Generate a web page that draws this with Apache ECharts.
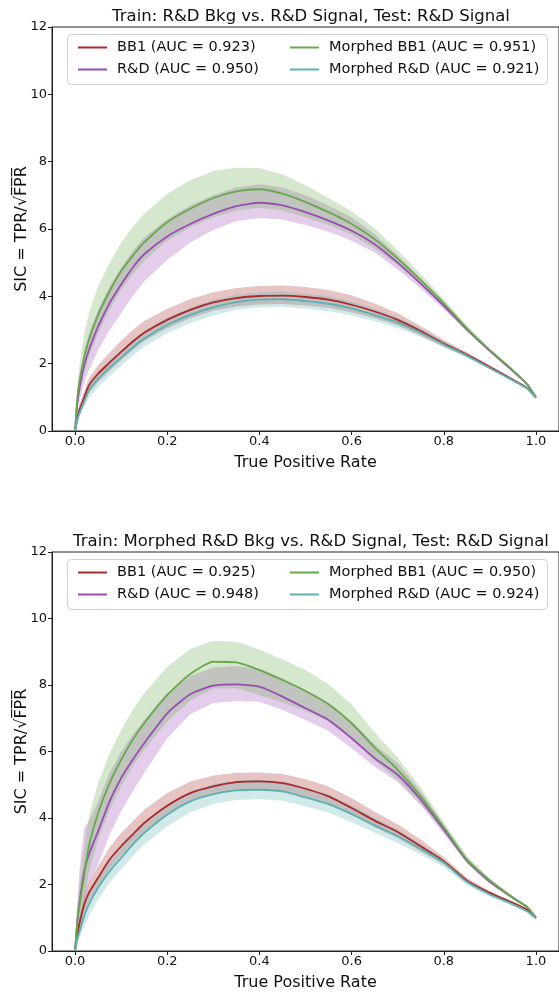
<!DOCTYPE html>
<html><head><meta charset="utf-8">
<script src="https://cdn.jsdelivr.net/npm/echarts@6/dist/echarts.min.js"></script>
<style>html,body{margin:0;padding:0;background:#fff}#c{width:559px;height:992px}</style>
</head><body><div id="c"></div>
<script>
// True positive rate grid (shared by all curves)
const tpr = [0, 0.005, 0.01, 0.02, 0.03, 0.05, 0.075, 0.1, 0.125, 0.15, 0.2, 0.25, 0.3, 0.35, 0.4, 0.45, 0.5, 0.55, 0.6, 0.65, 0.7, 0.75, 0.8, 0.85, 0.9, 0.95, 0.98, 1.0];

// Panel A: Train R&D Bkg vs R&D Signal
const aBB1    = [0, 0.4, 0.65, 1.0, 1.35, 1.7, 2.03, 2.35, 2.65, 2.92, 3.3, 3.6, 3.82, 3.95, 4.01, 4.02, 3.98, 3.9, 3.75, 3.55, 3.3, 2.97, 2.6, 2.27, 1.9, 1.52, 1.28, 1.0];
const aBB1Hi  = [0, 0.5, 0.8, 1.2, 1.57, 1.95, 2.33, 2.68, 3.0, 3.27, 3.63, 3.92, 4.12, 4.25, 4.31, 4.32, 4.28, 4.19, 4.03, 3.79, 3.5, 3.12, 2.7, 2.34, 1.95, 1.55, 1.3, 1.02];
const aBB1Lo  = [0, 0.3, 0.5, 0.8, 1.13, 1.45, 1.78, 2.1, 2.4, 2.67, 3.05, 3.35, 3.57, 3.7, 3.76, 3.77, 3.73, 3.66, 3.53, 3.35, 3.13, 2.83, 2.5, 2.2, 1.85, 1.49, 1.26, 0.98];
const aRD     = [0, 0.85, 1.3, 1.95, 2.4, 3.1, 3.8, 4.35, 4.85, 5.25, 5.78, 6.15, 6.45, 6.68, 6.78, 6.7, 6.5, 6.25, 5.95, 5.55, 5.0, 4.38, 3.72, 3.02, 2.38, 1.78, 1.4, 1.0];
const aRDHi   = [0, 1.15, 1.7, 2.4, 2.9, 3.6, 4.3, 4.85, 5.35, 5.75, 6.3, 6.7, 7.0, 7.23, 7.33, 7.23, 7.0, 6.7, 6.35, 5.85, 5.22, 4.54, 3.82, 3.09, 2.43, 1.82, 1.43, 1.02];
const aRDLo   = [0, 0.55, 0.9, 1.45, 1.8, 2.4, 3.0, 3.5, 4.0, 4.45, 5.08, 5.6, 5.97, 6.23, 6.33, 6.28, 6.12, 5.92, 5.65, 5.3, 4.8, 4.23, 3.62, 2.95, 2.33, 1.74, 1.37, 0.98];
const aMBB1   = [0, 1.0, 1.5, 2.2, 2.7, 3.45, 4.15, 4.75, 5.2, 5.6, 6.2, 6.6, 6.92, 7.12, 7.18, 7.05, 6.8, 6.5, 6.15, 5.7, 5.12, 4.48, 3.8, 3.05, 2.4, 1.8, 1.4, 1.0];
const aMBB1Hi = [0, 1.35, 2.0, 2.9, 3.5, 4.3, 5.0, 5.6, 6.05, 6.45, 7.05, 7.45, 7.72, 7.82, 7.81, 7.62, 7.3, 6.92, 6.53, 6.02, 5.37, 4.66, 3.92, 3.13, 2.46, 1.84, 1.43, 1.02];
const aMBB1Lo = [0, 0.7, 1.1, 1.75, 2.2, 2.9, 3.6, 4.2, 4.65, 5.05, 5.65, 6.05, 6.35, 6.54, 6.63, 6.55, 6.35, 6.12, 5.83, 5.43, 4.92, 4.33, 3.7, 2.98, 2.35, 1.76, 1.37, 0.98];
const aMRD    = [0, 0.33, 0.55, 0.88, 1.2, 1.55, 1.88, 2.18, 2.48, 2.75, 3.15, 3.45, 3.67, 3.83, 3.9, 3.92, 3.86, 3.78, 3.64, 3.44, 3.22, 2.92, 2.57, 2.24, 1.87, 1.5, 1.27, 0.98];
const aMRDHi  = [0, 0.43, 0.68, 1.05, 1.4, 1.77, 2.1, 2.4, 2.7, 2.97, 3.37, 3.67, 3.89, 4.05, 4.12, 4.14, 4.08, 4.0, 3.85, 3.63, 3.38, 3.05, 2.66, 2.3, 1.91, 1.53, 1.29, 1.0];
const aMRDLo  = [0, 0.23, 0.42, 0.7, 0.98, 1.3, 1.63, 1.93, 2.23, 2.5, 2.9, 3.2, 3.43, 3.6, 3.67, 3.69, 3.63, 3.56, 3.43, 3.26, 3.06, 2.8, 2.48, 2.18, 1.83, 1.47, 1.25, 0.96];

// Panel B: Train Morphed R&D Bkg vs R&D Signal
const bBB1    = [0, 0.5, 0.85, 1.4, 1.75, 2.2, 2.75, 3.15, 3.5, 3.85, 4.37, 4.75, 4.95, 5.08, 5.1, 5.05, 4.88, 4.65, 4.3, 3.92, 3.58, 3.15, 2.7, 2.12, 1.75, 1.45, 1.25, 1.0];
const bBB1Hi  = [0, 0.65, 1.05, 1.65, 2.05, 2.55, 3.12, 3.55, 3.9, 4.25, 4.75, 5.1, 5.28, 5.36, 5.37, 5.32, 5.17, 4.95, 4.6, 4.19, 3.81, 3.35, 2.83, 2.2, 1.8, 1.48, 1.27, 1.02];
const bBB1Lo  = [0, 0.35, 0.65, 1.15, 1.5, 1.92, 2.47, 2.87, 3.23, 3.58, 4.12, 4.5, 4.7, 4.83, 4.85, 4.8, 4.64, 4.42, 4.08, 3.72, 3.4, 3.0, 2.6, 2.05, 1.7, 1.42, 1.23, 0.98];
const bRD     = [0, 0.9, 1.5, 2.4, 2.9, 3.6, 4.5, 5.2, 5.75, 6.25, 7.15, 7.72, 7.98, 8.02, 7.95, 7.65, 7.3, 6.95, 6.4, 5.8, 5.3, 4.55, 3.65, 2.72, 2.08, 1.6, 1.33, 1.0];
const bRDHi   = [0, 1.5, 2.5, 3.7, 3.9, 4.5, 5.35, 6.0, 6.5, 6.95, 7.75, 8.27, 8.53, 8.57, 8.5, 8.2, 7.85, 7.47, 6.9, 6.22, 5.65, 4.8, 3.8, 2.82, 2.15, 1.65, 1.36, 1.02];
const bRDLo   = [0, 0.4, 0.8, 1.5, 2.0, 2.6, 3.5, 4.2, 4.8, 5.35, 6.4, 7.12, 7.46, 7.52, 7.5, 7.25, 6.95, 6.62, 6.1, 5.54, 5.08, 4.38, 3.53, 2.64, 2.02, 1.56, 1.3, 0.98];
const bMBB1   = [0, 0.9, 1.4, 2.3, 3.15, 4.15, 5.05, 5.75, 6.35, 6.85, 7.7, 8.33, 8.7, 8.68, 8.45, 8.15, 7.82, 7.42, 6.85, 6.12, 5.45, 4.65, 3.72, 2.75, 2.12, 1.6, 1.33, 1.0];
const bMBB1Hi = [0, 1.3, 2.0, 3.1, 4.05, 5.05, 5.95, 6.65, 7.25, 7.75, 8.55, 9.08, 9.33, 9.3, 9.07, 8.77, 8.45, 8.02, 7.42, 6.57, 5.82, 4.92, 3.88, 2.85, 2.19, 1.65, 1.36, 1.02];
const bMBB1Lo = [0, 0.5, 0.8, 1.5, 2.35, 3.35, 4.25, 4.95, 5.55, 6.05, 6.9, 7.53, 7.9, 7.9, 7.7, 7.47, 7.22, 6.9, 6.4, 5.72, 5.15, 4.43, 3.58, 2.65, 2.05, 1.55, 1.3, 0.98];
const bMRD    = [0, 0.35, 0.6, 1.05, 1.4, 1.9, 2.4, 2.8, 3.2, 3.55, 4.1, 4.5, 4.72, 4.83, 4.85, 4.8, 4.62, 4.42, 4.12, 3.78, 3.45, 3.07, 2.66, 2.08, 1.7, 1.4, 1.2, 0.98];
const bMRDHi  = [0, 0.5, 0.82, 1.32, 1.7, 2.22, 2.72, 3.12, 3.52, 3.87, 4.4, 4.8, 5.02, 5.13, 5.15, 5.1, 4.92, 4.7, 4.38, 4.01, 3.65, 3.22, 2.76, 2.14, 1.74, 1.43, 1.22, 1.0];
const bMRDLo  = [0, 0.2, 0.4, 0.75, 1.05, 1.55, 2.05, 2.45, 2.85, 3.2, 3.75, 4.17, 4.42, 4.54, 4.57, 4.52, 4.35, 4.16, 3.87, 3.56, 3.25, 2.9, 2.53, 1.98, 1.63, 1.35, 1.17, 0.96];

const titles = ['Train: R&D Bkg vs. R&D Signal, Test: R&D Signal',
                'Train: Morphed R&D Bkg vs. R&D Signal, Test: R&D Signal'];
const namesA = ['BB1 (AUC = 0.923)', 'R&D (AUC = 0.950)', 'Morphed BB1 (AUC = 0.951)', 'Morphed R&D (AUC = 0.921)'];
const namesB = ['BB1 (AUC = 0.925)', 'R&D (AUC = 0.948)', 'Morphed BB1 (AUC = 0.950)', 'Morphed R&D (AUC = 0.924)'];
const xTicks = [0, 0.2, 0.4, 0.6, 0.8, 1.0];

const colors = ['#a82a2a', '#9a4cb4', '#68a84c', '#5cb0b3'];
const bandColors = ['rgba(168,42,42,0.28)', 'rgba(154,76,180,0.28)', 'rgba(104,168,76,0.28)', 'rgba(92,176,179,0.28)'];

const panels = [
  {names: namesA, mean: [aBB1, aRD, aMBB1, aMRD], hi: [aBB1Hi, aRDHi, aMBB1Hi, aMRDHi], lo: [aBB1Lo, aRDLo, aMBB1Lo, aMRDLo]},
  {names: namesB, mean: [bBB1, bRD, bMBB1, bMRD], hi: [bBB1Hi, bRDHi, bMBB1Hi, bMRDHi], lo: [bBB1Lo, bRDLo, bMBB1Lo, bMRDLo]}
];

const gridTops = [27, 552];
const gridH = 404;
const FONT = 'DejaVu Sans';

const grid = [], xAxis = [], yAxis = [], series = [], legend = [], graphic = [], title = [];
panels.forEach((p, k) => {
  grid.push({left: 52, top: gridTops[k], width: 509, height: gridH, show: true, borderColor: '#222', borderWidth: 1, containLabel: false});
  xAxis.push({
    type: 'value', gridIndex: k, min: -0.05, max: 1.05,
    name: 'True Positive Rate', nameLocation: 'middle', nameGap: 24,
    nameTextStyle: {fontFamily: FONT, fontSize: 16, color: '#111'},
    axisLine: {show: true, onZero: false, lineStyle: {color: '#222', width: 1}},
    axisTick: {show: true, length: 4, customValues: xTicks, lineStyle: {color: '#222'}},
    axisLabel: {customValues: xTicks, formatter: v => v.toFixed(1), fontFamily: FONT, fontSize: 13, color: '#111', margin: 4},
    splitLine: {show: false}
  });
  yAxis.push({
    type: 'value', gridIndex: k, min: 0, max: 12, interval: 2,
    name: 'SIC = TPR/\u221AF\u0305P\u0305R\u0305', nameLocation: 'middle', nameGap: 22, nameRotate: 90,
    nameMoveOverlap: false,
    nameTextStyle: {fontFamily: FONT, fontSize: 16, color: '#111'},
    axisLine: {show: true, onZero: false, lineStyle: {color: '#222', width: 1}},
    axisTick: {show: true, length: 4, lineStyle: {color: '#222'}},
    axisLabel: {fontFamily: FONT, fontSize: 13, color: '#111', margin: 5},
    splitLine: {show: false}
  });
  title.push({text: titles[k], left: 306, textAlign: 'center', top: gridTops[k] - 24,
    textStyle: {fontFamily: FONT, fontSize: 16.5, fontWeight: 'normal', color: '#111'}});
  // bands
  p.mean.forEach((m, i) => {
    const hi = p.hi[i], lo = p.lo[i];
    series.push({
      type: 'custom', xAxisIndex: k, yAxisIndex: k, silent: true, z: 1 + i * 0.01,
      data: [[tpr[0], lo[0]]], clip: true,
      renderItem: (params, api) => {
        const pts = [];
        for (let j = 0; j < tpr.length; j++) pts.push(api.coord([tpr[j], hi[j]]));
        for (let j = tpr.length - 1; j >= 0; j--) pts.push(api.coord([tpr[j], lo[j]]));
        return {type: 'polygon', shape: {points: pts}, style: {fill: bandColors[i], stroke: null}};
      }
    });
  });
  // lines
  p.mean.forEach((m, i) => {
    series.push({
      type: 'line', name: p.names[i], xAxisIndex: k, yAxisIndex: k, z: 3,
      data: tpr.map((t, j) => [t, m[j]]), showSymbol: false, symbol: 'none',
      smooth: 0.2,
      lineStyle: {color: colors[i], width: 1.8}, itemStyle: {color: colors[i]}
    });
  });
  // legend box
  graphic.push({type: 'rect', z: 50, shape: {x: 67.5, y: gridTops[k] + 7.5, width: 480, height: 50, r: 4},
    style: {fill: 'rgba(255,255,255,0.85)', stroke: '#d0d0d0', lineWidth: 1}});
  const lgCommon = {orient: 'vertical', icon: 'rect', itemWidth: 29, itemHeight: 2, itemGap: 7, z: 60,
    textStyle: {fontFamily: FONT, fontSize: 14.5, color: '#111', padding: [0, 0, 0, 5]}, selectedMode: false};
  legend.push(Object.assign({}, lgCommon, {left: 73, top: gridTops[k] + 8, data: [p.names[0], p.names[1]]}));
  legend.push(Object.assign({}, lgCommon, {left: 285, top: gridTops[k] + 8, data: [p.names[2], p.names[3]]}));
});

const chart = echarts.init(document.getElementById('c'), null, {renderer: 'canvas'});
chart.setOption({animation: false, backgroundColor: '#fff', title, grid, xAxis, yAxis, series, legend, graphic});
</script></body></html>
